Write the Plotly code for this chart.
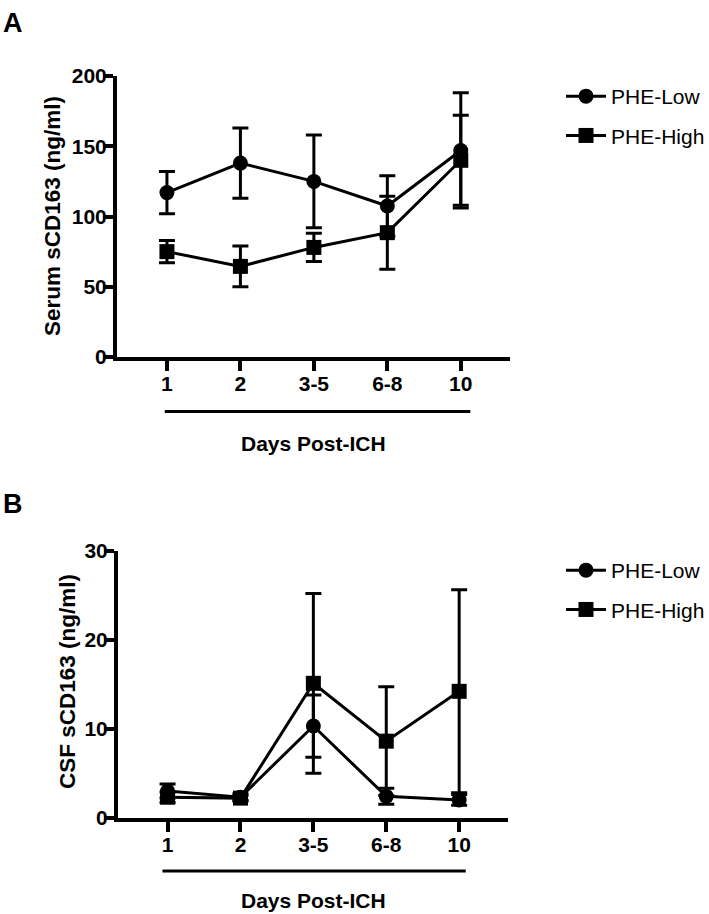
import plotly.graph_objects as go

categories = ["1", "2", "3-5", "6-8", "10"]
series_names = ["PHE-Low", "PHE-High"]

serum_low = [117, 138, 125, 107.5, 147]
serum_low_err = [15, 25, 33, 21.5, 41]
serum_high = [75, 64.5, 78, 88.5, 140]
serum_high_err = [8, 14.5, 10, 26, 32]

csf_low = [3.0, 2.3, 10.3, 2.4, 2.0]
csf_low_err = [0.8, 0.4, 3.5, 0.9, 0.6]
csf_high = [2.3, 2.2, 15.1, 8.6, 14.2]
csf_high_err = [0.6, 0.3, 10.1, 6.1, 11.4]

serum_ticks = [0, 50, 100, 150, 200]
csf_ticks = [0, 10, 20, 30]

W, H = 709, 914
FONT = "Liberation Sans, Arial, Helvetica, sans-serif"
BLACK = "black"

fig = go.Figure()

def add_series(y, err, name, symbol, xa, ya, legend, group):
    fig.add_trace(go.Scatter(
        x=categories, y=y, name=name, mode="lines+markers",
        xaxis=xa, yaxis=ya, legend=legend, legendgroup=group,
        line=dict(color=BLACK, width=3),
        marker=dict(symbol=symbol, size=15, color=BLACK),
        error_y=dict(type="data", array=err, visible=True,
                     color=BLACK, thickness=3, width=8),
        cliponaxis=False,
    ))

add_series(serum_low, serum_low_err, series_names[0], "circle", "x", "y", "legend", "a1")
add_series(serum_high, serum_high_err, series_names[1], "square", "x", "y", "legend", "a2")
add_series(csf_low, csf_low_err, series_names[0], "circle", "x2", "y2", "legend2", "b1")
add_series(csf_high, csf_high_err, series_names[1], "square", "x2", "y2", "legend2", "b2")

def py(pix):
    return 1 - pix / H

def px(pix):
    return pix / W

xrange_ = [-0.68, 4.67]
tickfont = dict(family=FONT, size=21, color=BLACK, weight="bold")

xcommon = dict(type="category", range=xrange_, showline=True, linewidth=4,
               linecolor=BLACK, ticks="outside", ticklen=10, tickwidth=4,
               tickcolor=BLACK, tickfont=tickfont, showgrid=False,
               zeroline=False, fixedrange=True, automargin=False,
               ticklabelstandoff=-5)
ycommon = dict(showline=True, linewidth=4, linecolor=BLACK, ticks="outside",
               ticklen=10, tickwidth=4, tickcolor=BLACK, tickfont=tickfont,
               showgrid=False, zeroline=False, fixedrange=True, automargin=False,
               ticklabelstandoff=-8)

legend_common = dict(xanchor="left", yanchor="top",
                     font=dict(family=FONT, size=21, color=BLACK),
                     traceorder="grouped", tracegroupgap=9,
                     bgcolor="rgba(0,0,0,0)", itemwidth=40)

fig.update_layout(
    width=W, height=H,
    margin=dict(l=0, r=0, t=0, b=0, pad=0, autoexpand=False),
    paper_bgcolor="white", plot_bgcolor="white",
    font=dict(family=FONT, color=BLACK),
    xaxis=dict(**xcommon, domain=[px(117), px(510)], anchor="y"),
    yaxis=dict(**ycommon, domain=[py(357), py(76)], range=[0, 200],
               tickvals=serum_ticks, anchor="x"),
    xaxis2=dict(**xcommon, domain=[px(118), px(508)], anchor="y2"),
    yaxis2=dict(**ycommon, domain=[py(817.7), py(550.7)], range=[0, 30],
                tickvals=csf_ticks, anchor="x2"),
    legend=dict(**legend_common, x=px(561), y=py(76)),
    legend2=dict(**legend_common, x=px(561), y=py(550)),
    showlegend=True,
)

# Bracket lines under the x axes
fig.add_shape(type="line", xref="x", yref="paper", x0=-0.03, x1=4.13,
              y0=py(411.5), y1=py(411.5), line=dict(color=BLACK, width=3))
fig.add_shape(type="line", xref="x2", yref="paper", x0=-0.07, x1=4.09,
              y0=py(871), y1=py(871), line=dict(color=BLACK, width=3))

titlefont = dict(family=FONT, size=21, color=BLACK, weight="bold")
ytitlefont = dict(family=FONT, size=22.5, color=BLACK, weight="bold")
annotations = [
    dict(text="Days Post-ICH", xref="x", yref="paper", x=2, y=py(443),
         showarrow=False, font=titlefont, xanchor="center", yanchor="middle"),
    dict(text="Days Post-ICH", xref="x2", yref="paper", x=2, y=py(900),
         showarrow=False, font=titlefont, xanchor="center", yanchor="middle"),
    dict(text="Serum sCD163 (ng/ml)", xref="paper", yref="paper", x=px(52),
         y=py(216), textangle=-90, showarrow=False, font=ytitlefont,
         xanchor="center", yanchor="middle"),
    dict(text="CSF sCD163 (ng/ml)", xref="paper", yref="paper", x=px(67),
         y=py(682), textangle=-90, showarrow=False, font=ytitlefont,
         xanchor="center", yanchor="middle"),
    dict(text="A", xref="paper", yref="paper", x=px(1), y=py(23),
         showarrow=False, xanchor="left", yanchor="middle",
         font=dict(family=FONT, size=27, color=BLACK, weight="bold")),
    dict(text="B", xref="paper", yref="paper", x=px(1), y=py(504),
         showarrow=False, xanchor="left", yanchor="middle",
         font=dict(family=FONT, size=27, color=BLACK, weight="bold")),
]
fig.update_layout(annotations=annotations)

fig.write_html(
    "out.html",
    config={"displayModeBar": False},
    post_script="document.body.style.margin='0';document.body.style.overflow='hidden';",
)
